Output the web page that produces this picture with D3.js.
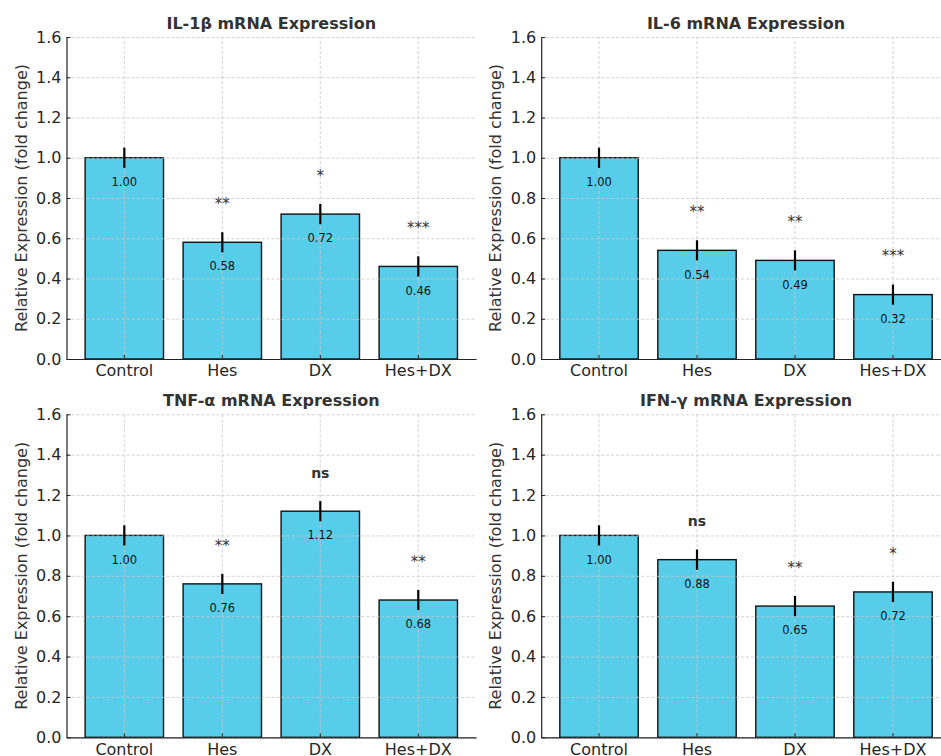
<!DOCTYPE html>
<html>
<head>
<meta charset="utf-8">
<script src="https://cdnjs.cloudflare.com/ajax/libs/d3/7.8.5/d3.min.js"></script>
<style>
  body { margin: 0; background: #fff; overflow: hidden; }
  svg, svg text { font-family: "DejaVu Sans", sans-serif; }
  svg { display: block; }
  .grid line { stroke: #c8c8c8; stroke-dasharray: 3,2; stroke-width: 0.8; }
  .grid .domain { display: none; }
  .axis .domain { stroke: #222; stroke-width: 1.2; }
  .axis .tick line { stroke: #222; }
  .axis text { fill: #262626; font-size: 16px; }
</style>
</head>
<body>
<div id="chart"></div>
<script>
var groups = ["Control", "Hes", "DX", "Hes+DX"];

var titles = ["IL-1β mRNA Expression", "IL-6 mRNA Expression", "TNF-α mRNA Expression", "IFN-γ mRNA Expression"];

var il1b = [1.00, 0.58, 0.72, 0.46];
var il6 = [1.00, 0.54, 0.49, 0.32];
var tnfa = [1.00, 0.76, 1.12, 0.68];
var ifng = [1.00, 0.88, 0.65, 0.72];

var errIl1b = [0.05, 0.05, 0.05, 0.05];
var errIl6 = [0.05, 0.05, 0.05, 0.05];
var errTnfa = [0.05, 0.05, 0.05, 0.05];
var errIfng = [0.05, 0.05, 0.05, 0.05];

var sigIl1b = ["", "**", "*", "***"];
var sigIl6 = ["", "**", "**", "***"];
var sigTnfa = ["", "**", "ns", "**"];
var sigIfng = ["", "ns", "**", "*"];

var yTicks = [0.0, 0.2, 0.4, 0.6, 0.8, 1.0, 1.2, 1.4, 1.6];

var panels = [
    { title: titles[0], values: il1b, errs: errIl1b, sig: sigIl1b, left: 66.5, top: 37, bottom: 359 },
    { title: titles[1], values: il6, errs: errIl6, sig: sigIl6, left: 541.2, top: 37, bottom: 359 },
    { title: titles[2], values: tnfa, errs: errTnfa, sig: sigTnfa, left: 66.5, top: 414.3, bottom: 737.3 },
    { title: titles[3], values: ifng, errs: errIfng, sig: sigIfng, left: 541.2, top: 414.3, bottom: 737.3 }
];

var panelWidth = 409.6;
var barColor = "#58CDEA";

var svg = d3.select("#chart")
    .append("svg")
    .attr("width", 941)
    .attr("height", 756);

panels.forEach(function (p) {
    var width = panelWidth,
        height = p.bottom - p.top;

    var g = svg.append("g")
        .attr("transform", "translate(" + p.left + "," + p.top + ")");

    var x = d3.scaleBand()
        .domain(groups)
        .range([0, width])
        .paddingInner(0.2)
        .paddingOuter(0.19);

    var y = d3.scaleLinear()
        .domain([0, 1.6])
        .range([height, 0]);

    var rows = groups.map(function (name, i) {
        return { name: name, value: p.values[i], err: p.errs[i], sig: p.sig[i] };
    });

    // bars
    g.selectAll(".bar")
        .data(rows)
        .enter().append("rect")
        .attr("class", "bar")
        .attr("x", function (d) { return x(d.name); })
        .attr("y", function (d) { return y(d.value); })
        .attr("width", x.bandwidth())
        .attr("height", function (d) { return height - y(d.value); })
        .attr("fill", barColor)
        .attr("stroke", "#111")
        .attr("stroke-width", 1.4);

    // grid drawn over the bars
    g.append("g")
        .attr("class", "grid")
        .call(d3.axisLeft(y).tickValues(yTicks).tickSize(-width).tickFormat(""));

    g.append("g")
        .attr("class", "grid")
        .attr("transform", "translate(0," + height + ")")
        .call(d3.axisBottom(x).tickSize(-height).tickFormat("").tickSizeOuter(0));

    // error bars
    g.selectAll(".err")
        .data(rows)
        .enter().append("line")
        .attr("class", "err")
        .attr("x1", function (d) { return x(d.name) + x.bandwidth() / 2; })
        .attr("x2", function (d) { return x(d.name) + x.bandwidth() / 2; })
        .attr("y1", function (d) { return y(d.value - d.err); })
        .attr("y2", function (d) { return y(d.value + d.err); })
        .attr("stroke", "#000")
        .attr("stroke-width", 2.2);

    // value labels inside bars
    g.selectAll(".val")
        .data(rows)
        .enter().append("text")
        .attr("class", "val")
        .attr("x", function (d) { return x(d.name) + x.bandwidth() / 2; })
        .attr("y", function (d) { return y(d.value - 0.12); })
        .attr("dy", "0.35em")
        .attr("text-anchor", "middle")
        .style("font-size", "11.5px")
        .style("fill", "#111")
        .text(function (d) { return d.value.toFixed(2); });

    // significance marks
    g.selectAll(".sig")
        .data(rows.filter(function (d) { return d.sig !== ""; }))
        .enter().append("text")
        .attr("class", "sig")
        .attr("x", function (d) { return x(d.name) + x.bandwidth() / 2; })
        .attr("y", function (d) { return y(d.value + 0.15) - 3; })
        .attr("text-anchor", "middle")
        .style("font-size", function (d) { return d.sig === "ns" ? "14px" : "15px"; })
        .style("font-weight", function (d) { return d.sig === "ns" ? "bold" : "normal"; })
        .style("fill", "#333")
        .text(function (d) { return d.sig; });

    // axes
    g.append("g")
        .attr("class", "axis")
        .call(d3.axisLeft(y)
            .tickValues(yTicks)
            .tickSize(-4)
            .tickPadding(5)
            .tickSizeOuter(0)
            .tickFormat(d3.format(".1f")));

    g.append("g")
        .attr("class", "axis")
        .attr("transform", "translate(0," + height + ")")
        .call(d3.axisBottom(x).tickSize(-4).tickPadding(6).tickSizeOuter(0));

    // y label
    g.append("text")
        .attr("transform", "rotate(-90)")
        .attr("x", -height / 2)
        .attr("y", -40)
        .attr("text-anchor", "middle")
        .style("font-size", "16px")
        .style("fill", "#333")
        .text("Relative Expression (fold change)");

    // title
    g.append("text")
        .attr("x", width / 2)
        .attr("y", -8)
        .attr("text-anchor", "middle")
        .style("font-size", "16px")
        .style("font-weight", "bold")
        .style("fill", "#333")
        .text(p.title);
});
</script>
</body>
</html>
